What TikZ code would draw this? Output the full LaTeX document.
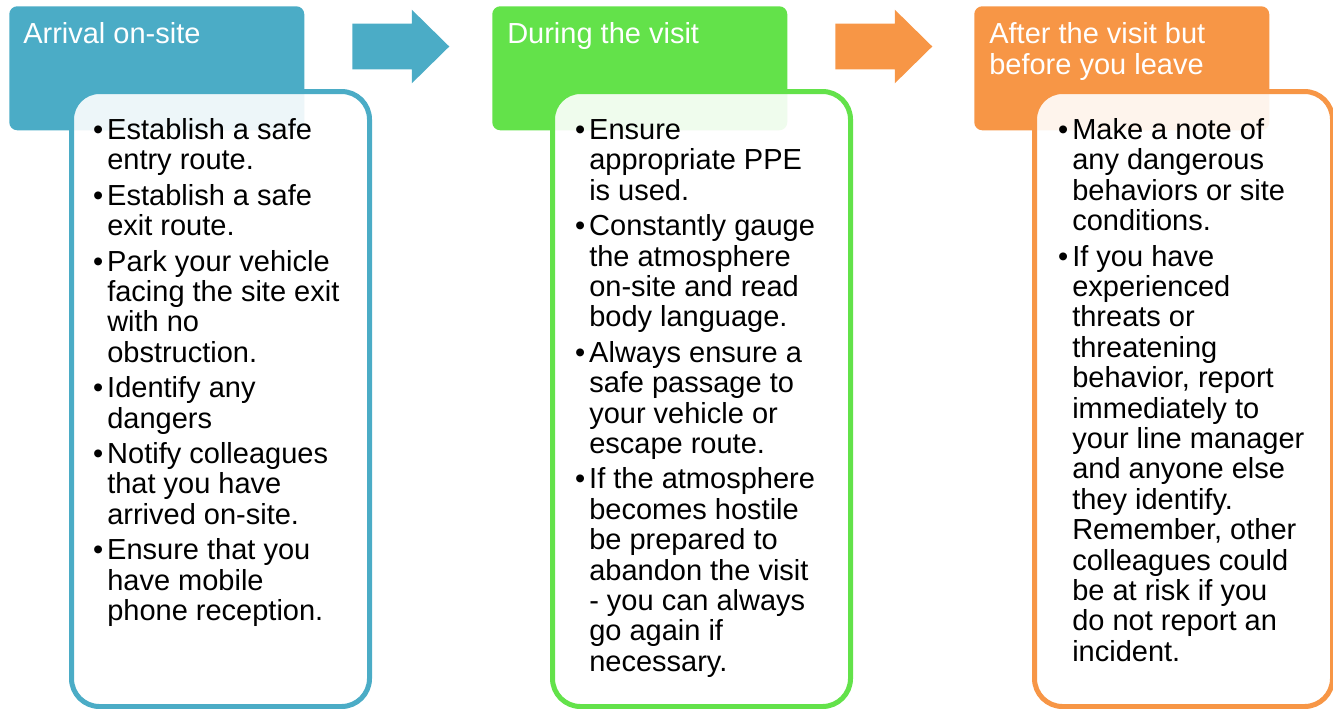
\documentclass[tikz,border=0pt]{standalone}
\usepackage{fontspec}
\setmainfont{Liberation Sans}
\usetikzlibrary{shapes,arrows.meta,positioning}
\definecolor{arrivalC}{RGB}{75,172,198}
\definecolor{visitC}{RGB}{99,226,74}
\definecolor{leaveC}{RGB}{247,150,70}
\newcommand\bul{\leavevmode\llap{\textbullet\hspace{3pt}}}
\newcommand\toplines[1]{\parbox[t]{240pt}{\raggedright #1}}
\tikzset{
    x=0.75pt, y=-0.75pt,
    head/.style ={rectangle, rounded corners=6pt, anchor=north west, inner sep=0pt,
                  minimum width=221.25pt, minimum height=93pt},
    card/.style ={rectangle, rounded corners=21pt, anchor=north west, line width=3.75pt,
                  fill=white, fill opacity=0.9, draw opacity=1,
                  minimum width=223.5pt, minimum height=461.25pt},
    htext/.style={anchor=base west, inner sep=0pt, text=white,
                  font=\fontsize{21.75pt}{23.25pt}\selectfont},
    btext/.style={anchor=base west, inner sep=0pt,
                  font=\fontsize{21.75pt}{22.8pt}\selectfont},
    flow/.style ={single arrow, anchor=tail, inner xsep=0pt, inner ysep=16.875pt,
                  minimum height=72.75pt, single arrow head extend=10.5pt,
                  single arrow tip angle=89}
}
\begin{document}
\begin{tikzpicture}
    \useasboundingbox (0,0) rectangle (1333,708);
    % headers
    \node[head, fill=arrivalC] (h1) at (9,6) {};
    \node[head, fill=visitC] (h2) at (492,6) {};
    \node[head, fill=leaveC] (h3) at (974,6) {};
    \node[flow, fill=arrivalC] (a1) at (352,46.5) {};
    \node[flow, fill=leaveC] (a2) at (835,46.5) {};
    \node[htext] (h1t) at (23,43.5) {Arrival on-site};
    \node[htext] (h2t) at (507,43.5) {During the visit};
    \node[htext] (h3t) at (989,43.5) {\toplines{After the visit but\\before you leave}};
    % cards
    \node[card, draw=arrivalC] (c1) at (69,89) {};
    \node[card, draw=visitC] (c2) at (550,89) {};
    \node[card, draw=leaveC] (c3) at (1032,89) {};

    \node[btext] (c1t) at (107,139.5) {\toplines{\bul Establish a safe\\entry route.\\[3.75pt]
        \bul Establish a safe\\exit route.\\[3.75pt]
        \bul Park your vehicle\\facing the site exit\\with no\\obstruction.\\[3.75pt]
        \bul Identify any\\dangers\\[3.75pt]
        \bul Notify colleagues\\that you have\\arrived on-site.\\[3.75pt]
        \bul Ensure that you\\have mobile\\phone reception.}};
    \node[btext] (c2t) at (589,139.5) {\toplines{\bul Ensure\\appropriate PPE\\is used.\\[3.75pt]
        \bul Constantly gauge\\the atmosphere\\on-site and read\\body language.\\[3.75pt]
        \bul Always ensure a\\safe passage to\\your vehicle or\\escape route.\\[3.75pt]
        \bul If the atmosphere\\becomes hostile\\be prepared to\\abandon the visit\\- you can always\\go again if\\necessary.}};
    \node[btext] (c3t) at (1072,139.5) {\toplines{\bul Make a note of\\any dangerous\\behaviors or site\\conditions.\\[3.75pt]
        \bul If you have\\experienced\\threats or\\threatening\\behavior, report\\immediately to\\your line manager\\and anyone else\\they identify.\\Remember, other\\colleagues could\\be at risk if you\\do not report an\\incident.}};
\end{tikzpicture}
\end{document}
